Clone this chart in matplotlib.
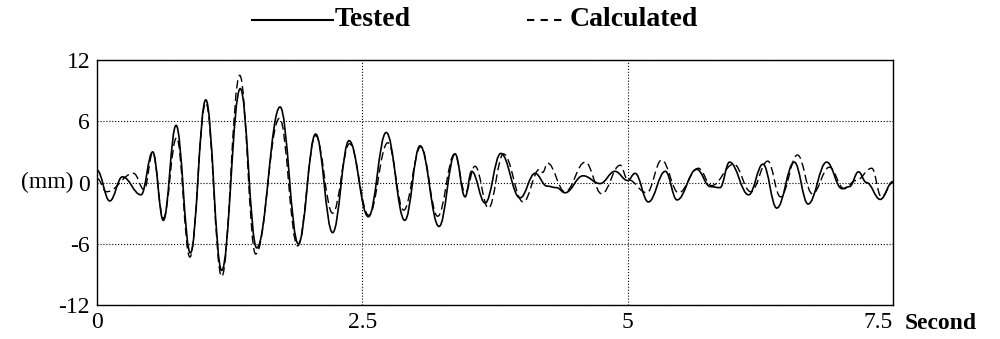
import matplotlib
matplotlib.use('Agg')
import matplotlib.pyplot as plt
from matplotlib.path import Path
from matplotlib.patches import PathPatch
from matplotlib.lines import Line2D

plt.rcParams['font.family'] = ['Liberation Serif', 'DejaVu Serif']

# peaks / troughs (time in s, displacement in mm)
tested_t = [0.0, 0.12, 0.24, 0.415, 0.525, 0.625, 0.745, 0.88, 1.025, 1.175,
            1.35, 1.505, 1.725, 1.897, 2.06, 2.22, 2.375, 2.557, 2.725, 2.90,
            3.044, 3.223, 3.374, 3.468, 3.53, 3.657, 3.805, 3.986, 4.128, 4.24,
            4.33, 4.41, 4.58, 4.74, 4.88, 5.0, 5.07, 5.195, 5.355, 5.465,
            5.65, 5.78, 5.87, 5.96, 6.14, 6.275, 6.405, 6.57, 6.70, 6.875,
            7.02, 7.09, 7.175, 7.25, 7.38, 7.5]
tested_v = [1.2, -1.8, 0.56, -1.2, 3.0, -3.7, 5.6, -6.9, 8.1, -8.6,
            9.2, -6.4, 7.4, -6.0, 4.75, -4.9, 4.1, -3.35, 4.9, -3.7,
            3.6, -4.3, 2.8, -1.4, 1.1, -2.0, 2.85, -1.5, 0.9, -0.35,
            -0.5, -1.0, 0.66, -0.1, 1.1, 0.2, 0.9, -1.9, 1.1, -1.7,
            1.3, -0.4, -0.5, 2.0, -1.2, 1.8, -2.5, 2.0, -2.1, 2.0,
            -0.6, -0.4, 1.05, 0.0, -1.65, 0.1]

calc_t = [0.0, 0.09, 0.345, 0.445, 0.525, 0.625, 0.75, 0.875, 1.025, 1.175,
          1.345, 1.495, 1.72, 1.89, 2.06, 2.22, 2.38, 2.56, 2.74, 2.89,
          3.05, 3.21, 3.37, 3.47, 3.562, 3.688, 3.83, 4.016, 4.17, 4.2,
          4.245, 4.41, 4.60, 4.755, 4.93, 5.0, 5.18, 5.32, 5.48, 5.667,
          5.79, 6.0, 6.16, 6.32, 6.44, 6.6, 6.74, 6.9, 7.04, 7.15,
          7.3, 7.39, 7.5]
calc_v = [0.4, -0.9, 0.9, -0.7, 2.9, -3.5, 4.4, -7.3, 7.8, -9.2,
          10.5, -7.0, 6.3, -6.2, 4.6, -3.0, 3.8, -3.2, 3.9, -2.7,
          3.5, -3.3, 2.8, -1.0, 1.6, -2.5, 2.8, -1.9, 1.3, 1.0,
          1.9, -0.9, 2.0, -1.1, 1.7, 0.3, -1.0, 2.2, -1.0, 1.4,
          -0.3, 1.8, -0.9, 2.1, -1.4, 2.7, -1.1, 1.5, -0.6, 0.2,
          1.4, -1.4, 0.0]

x_ticks = [0, 2.5, 5, 7.5]
x_labels = ['0', '2.5', '5', '7.5']
y_ticks = [-12, -6, 0, 6, 12]
y_labels = ['-12', '-6', '0', '6', '12']


def wave_path(t, v, k=0.4):
    # smooth bezier through the extrema (flat tangent at each point)
    verts = [(t[0], v[0])]
    codes = [Path.MOVETO]
    for i in range(len(t) - 1):
        d = t[i + 1] - t[i]
        verts += [(t[i] + k * d, v[i]), (t[i + 1] - k * d, v[i + 1]), (t[i + 1], v[i + 1])]
        codes += [Path.CURVE4] * 3
    return Path(verts, codes)


fig = plt.figure(figsize=(10, 3.39), dpi=100)
ax = fig.add_axes([0.097, 0.1, 0.796, 0.723])

ax.add_patch(PathPatch(wave_path(tested_t, tested_v), fill=False, lw=1.2, ec='black'))
ax.add_patch(PathPatch(wave_path(calc_t, calc_v), fill=False, lw=1.0, ec='black',
                       ls=(0, (6, 3))))

ax.set_xlim(0, 7.5)
ax.set_ylim(-12, 12)
ax.set_xticks(x_ticks)
ax.set_xticklabels(x_labels)
ax.set_yticks(y_ticks)
ax.set_yticklabels(y_labels)
ax.tick_params(length=0, labelsize=17, pad=5)
ax.get_xticklabels()[-1].set_horizontalalignment('right')
ax.grid(True, ls=':', color='black', lw=0.8)
for s in ax.spines.values():
    s.set_linewidth(1.0)

fig.text(0.074, 1 - 182.5 / 339, '(mm)', ha='right', va='center', fontsize=17)
fig.text(0.905, 0.047, 'Second', ha='left', va='center', fontsize=17, fontweight='bold')

# legend drawn by hand above the plot
ly = 1 - 20 / 339
fig.add_artist(Line2D([0.252, 0.333], [ly, ly], color='black', lw=1.5))
fig.text(0.335, ly, 'Tested', ha='left', va='center', fontsize=20, fontweight='bold')
fig.add_artist(Line2D([0.527, 0.562], [ly, ly], color='black', lw=1.5, dashes=(3.5, 3)))
fig.text(0.570, ly, 'Calculated', ha='left', va='center', fontsize=20, fontweight='bold')

fig.savefig('out.png', dpi=100)
